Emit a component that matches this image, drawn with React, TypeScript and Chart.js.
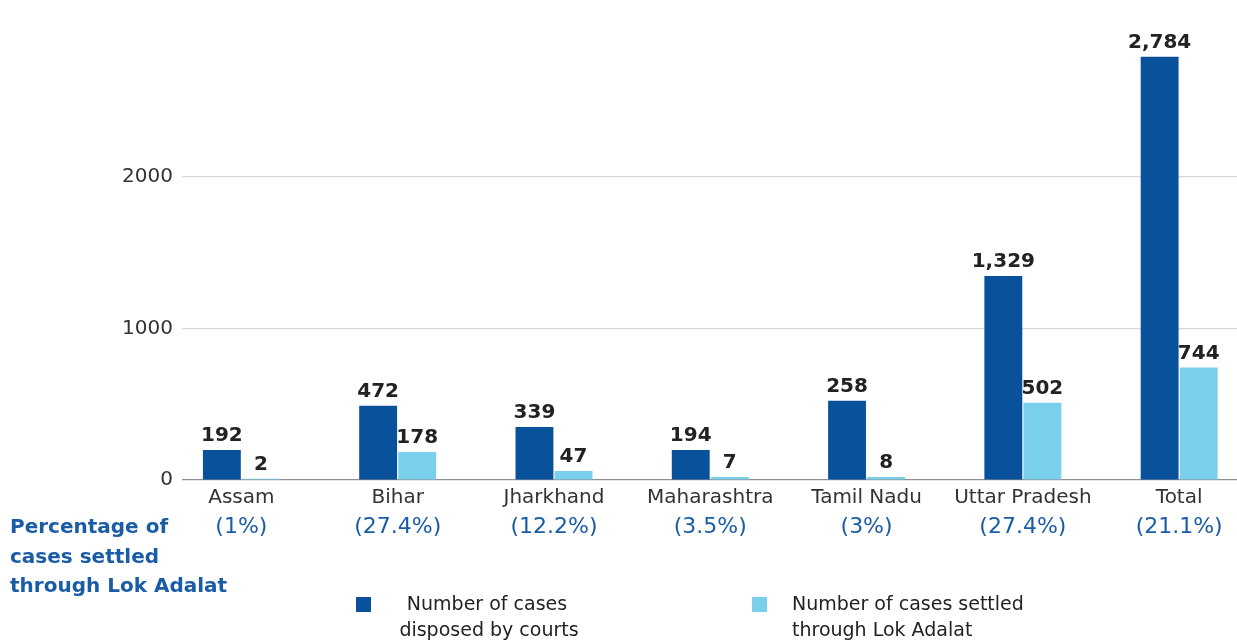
import React, { useEffect, useRef } from "react";
import { Chart, registerables } from "chart.js";

Chart.register(...registerables);

const categories = ["Assam", "Bihar", "Jharkhand", "Maharashtra", "Tamil Nadu", "Uttar Pradesh", "Total"];
const percentLabels = ["(1%)", "(27.4%)", "(12.2%)", "(3.5%)", "(3%)", "(27.4%)", "(21.1%)"];
// bar heights as drawn in the picture
const disposedValues = [197, 490, 349, 197, 522, 1345, 2790];
const settledValues = [8, 185, 60, 20, 20, 510, 742];
// printed value labels
const disposedLabels = ["192", "472", "339", "194", "258", "1,329", "2,784"];
const settledLabels = ["2", "178", "47", "7", "8", "502", "744"];
const yTicks = [0, 1000, 2000];
const seriesNames = ["Number of cases disposed by courts", "Number of cases settled through Lok Adalat"];
const legendLines = [
  ["Number of cases", "disposed by courts"],
  ["Number of cases settled", "through Lok Adalat"],
];
const sideTitle = ["Percentage of", "cases settled", "through Lok Adalat"];

const DARK = "#0A519C";
const LIGHT = "#7ACFEA";
const BLUE_TEXT = "#1A5CA6";
const FONT = "'DejaVu Sans', 'Noto Sans', sans-serif";

const overlayPlugin = {
  id: "overlay",
  afterDatasetsDraw(chart: any) {
    const ctx = chart.ctx;
    ctx.save();
    // value labels
    ctx.font = `bold 20px ${FONT}`;
    ctx.fillStyle = "#222222";
    ctx.textAlign = "center";
    ctx.textBaseline = "bottom";
    [disposedLabels, settledLabels].forEach((labels, di) => {
      const meta = chart.getDatasetMeta(di);
      meta.data.forEach((el: any, i: number) => {
        ctx.fillText(labels[i], el.x, el.y - 4);
      });
    });

    // side title
    ctx.fillStyle = BLUE_TEXT;
    ctx.font = `bold 20px ${FONT}`;
    ctx.textAlign = "left";
    ctx.textBaseline = "middle";
    sideTitle.forEach((line, i) => ctx.fillText(line, 10, 528 + i * 29.5));

    // legend
    ctx.font = `19px ${FONT}`;
    ctx.fillStyle = DARK;
    ctx.fillRect(356, 597, 15, 15);
    ctx.fillStyle = LIGHT;
    ctx.fillRect(752, 597, 15, 15);
    ctx.fillStyle = "#222222";
    ctx.textAlign = "center";
    ctx.fillText(legendLines[0][0], 487, 605);
    ctx.fillText(legendLines[0][1], 489, 631);
    ctx.textAlign = "left";
    ctx.fillText(legendLines[1][0], 792, 605);
    ctx.fillText(legendLines[1][1], 792, 631);
    ctx.restore();
  },
};

export default function App() {
  const canvasRef = useRef<HTMLCanvasElement | null>(null);

  useEffect(() => {
    const canvas = canvasRef.current;
    if (!canvas) return;
    const chart = new Chart(canvas, {
      type: "bar",
      data: {
        datasets: [
          {
            label: seriesNames[0],
            data: disposedValues.map((v, i) => ({ x: i, y: v })),
            backgroundColor: DARK,
            categoryPercentage: 0.5,
            barPercentage: 0.97,
          },
          {
            label: seriesNames[1],
            data: settledValues.map((v, i) => ({ x: i, y: v })),
            backgroundColor: LIGHT,
            categoryPercentage: 0.5,
            barPercentage: 0.97,
          },
        ],
      },
      options: {
        animation: false,
        responsive: false,
        layout: { padding: { top: 25, right: 0, left: 0, bottom: 90 } },
        plugins: {
          legend: { display: false },
          tooltip: { enabled: false },
        },
        scales: {
          x: {
            type: "linear",
            position: "bottom",
            offset: false,
            min: -0.38,
            max: 6.37,
            afterBuildTicks: (s: any) => {
              s.ticks = categories.map((_, i) => ({ value: i }));
            },
            afterFit: (s: any) => {
              s.height = 32;
            },
            grid: { display: false, drawTicks: false },
            border: { display: false },
            ticks: {
              autoSkip: false,
              maxRotation: 0,
              padding: 6,
              color: "#333333",
              font: { family: FONT, size: 20 },
              callback: (v: any) => categories[v] ?? "",
            },
          },
          x2: {
            type: "linear",
            position: "bottom",
            offset: false,
            min: -0.38,
            max: 6.37,
            afterBuildTicks: (s: any) => {
              s.ticks = percentLabels.map((_, i) => ({ value: i }));
            },
            afterFit: (s: any) => {
              s.height = 40;
            },
            grid: { display: false, drawTicks: false },
            border: { display: false },
            ticks: {
              autoSkip: false,
              maxRotation: 0,
              padding: 2,
              color: BLUE_TEXT,
              font: { family: FONT, size: 22 },
              callback: (v: any) => percentLabels[v] ?? "",
            },
          },
          y: {
            min: 0,
            max: 3000,
            afterBuildTicks: (s: any) => {
              s.ticks = yTicks.map((v) => ({ value: v }));
            },
            afterFit: (s: any) => {
              s.width = 182;
            },
            grid: {
              drawTicks: false,
              color: (c: any) => (c.tick && c.tick.value === 0 ? "#8f8f8f" : "#d8d8d8"),
              lineWidth: 1.2,
            },
            border: { display: false },
            ticks: {
              padding: 9,
              color: "#333333",
              font: { family: FONT, size: 20 },
              callback: (v: any) => String(v),
            },
          },
        },
      },
      plugins: [overlayPlugin],
    });
    return () => chart.destroy();
  }, []);

  return (
    <div style={{ position: "fixed", left: 0, top: 0, width: 1237, height: 642, background: "#ffffff" }}>
      <canvas ref={canvasRef} width={1237} height={642} style={{ display: "block" }} />
    </div>
  );
}
